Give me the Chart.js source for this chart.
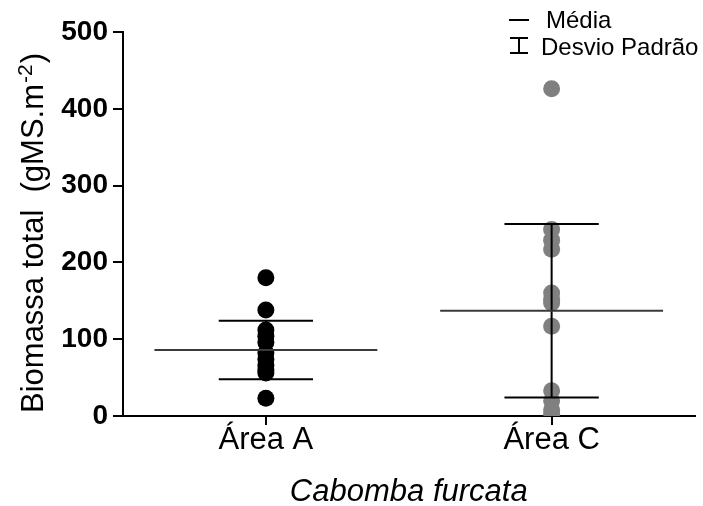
<!DOCTYPE html>
<html>
<head>
<meta charset="utf-8">
<script src="https://cdn.jsdelivr.net/npm/chart.js@4.4.1/dist/chart.umd.min.js"></script>
<style>
html,body{margin:0;padding:0;background:#fff;}
#wrap{width:703px;height:506px;position:relative;}
</style>
</head>
<body>
<div id="wrap"><canvas id="c" width="703" height="506"></canvas></div>
<script>
const categories = ['Área A', 'Área C'];
const areaA = [180, 138, 112, 104, 96, 82, 74, 66, 60, 56, 23];
const areaC = [426, 243, 229, 217, 160, 152, 147, 117, 33, 20, 8, 3];
const means = [86, 137];
const sds = [38, 113];
const yTicks = [0, 100, 200, 300, 400, 500];
const legendLabels = ['Média', 'Desvio Padrão'];
const yTitleParts = ['Biomassa total  (gMS.m', '-2', ')'];
const xTitle = 'Cabomba furcata';

const FONT = "Arial, 'Liberation Sans', sans-serif";

const errPlugin = {
  id: 'meanSd',
  afterDatasetsDraw(chart) {
    const ctx = chart.ctx, x = chart.scales.x, y = chart.scales.y;
    const catW = x.getPixelForValue(1) - x.getPixelForValue(0);
    ctx.save();
    means.forEach((m, i) => {
      const cx = x.getPixelForValue(i);
      const mw = catW * 0.39, sw = catW * 0.165;
      const yHi = y.getPixelForValue(m + sds[i]);
      const yLo = y.getPixelForValue(m - sds[i]);
      const yM = y.getPixelForValue(m);
      ctx.strokeStyle = '#000';
      ctx.lineWidth = 2;
      ctx.beginPath();
      ctx.moveTo(cx, yHi); ctx.lineTo(cx, yLo);
      ctx.moveTo(cx - sw, yHi); ctx.lineTo(cx + sw, yHi);
      ctx.moveTo(cx - sw, yLo); ctx.lineTo(cx + sw, yLo);
      ctx.stroke();
      ctx.strokeStyle = '#3a3a3a';
      ctx.lineWidth = 2;
      ctx.beginPath();
      ctx.moveTo(cx - mw, yM); ctx.lineTo(cx + mw, yM);
      ctx.stroke();
    });
    ctx.restore();
  },
  afterDraw(chart) {
    const ctx = chart.ctx;
    ctx.save();
    // legend
    ctx.strokeStyle = '#000';
    ctx.lineWidth = 2;
    ctx.beginPath();
    ctx.moveTo(509, 20); ctx.lineTo(529, 20);
    ctx.moveTo(510, 38); ctx.lineTo(528, 38);
    ctx.moveTo(519, 38); ctx.lineTo(519, 53);
    ctx.moveTo(510, 53); ctx.lineTo(528, 53);
    ctx.stroke();
    ctx.fillStyle = '#000';
    ctx.font = "24px " + FONT;
    ctx.textBaseline = 'alphabetic';
    ctx.fillText(legendLabels[0], 546, 28);
    ctx.fillText(legendLabels[1], 541, 55);
    ctx.restore();

    // y axis title with superscript
    ctx.save();
    ctx.translate(43, 413);
    ctx.rotate(-Math.PI / 2);
    ctx.fillStyle = '#000';
    ctx.textBaseline = 'alphabetic';
    ctx.textAlign = 'left';
    let px = 0;
    ctx.font = "31px " + FONT;
    ctx.fillText(yTitleParts[0], px, 0);
    px += ctx.measureText(yTitleParts[0]).width + 1;
    ctx.font = "21px " + FONT;
    ctx.fillText(yTitleParts[1], px, -11);
    px += ctx.measureText(yTitleParts[1]).width + 1;
    ctx.font = "31px " + FONT;
    ctx.fillText(yTitleParts[2], px, 0);
    ctx.restore();
  }
};

new Chart(document.getElementById('c'), {
  type: 'scatter',
  data: {
    labels: categories,
    datasets: [
      { data: areaA.map(v => ({x: categories[0], y: v})), backgroundColor: '#000', borderWidth: 0, pointRadius: 8.5 },
      { data: areaC.map(v => ({x: categories[1], y: v})), backgroundColor: '#808080', borderWidth: 0, pointRadius: 8.5 }
    ]
  },
  options: {
    responsive: false,
    animation: false,
    events: [],
    layout: { padding: { top: 32, right: 5, left: 0, bottom: 0 } },
    plugins: { legend: { display: false }, tooltip: { enabled: false } },
    scales: {
      x: {
        type: 'category',
        labels: categories,
        offset: true,
        grid: { display: true, drawOnChartArea: false, drawTicks: true, tickLength: 9, color: '#000', lineWidth: 2 },
        border: { display: true, color: '#000', width: 2 },
        ticks: { color: '#000', font: { family: FONT, size: 31, lineHeight: 1 }, padding: 0 },
        title: { display: true, text: xTitle, color: '#000', font: { family: FONT, size: 31, style: 'italic', lineHeight: 1 }, padding: { top: 4, bottom: -2 } },
        afterFit(s) { s.height = 90; }
      },
      y: {
        min: 0, max: 500,
        afterBuildTicks(s) { s.ticks = yTicks.map(v => ({value: v})); },
        grid: { display: true, drawOnChartArea: false, drawTicks: true, tickLength: 10, color: '#000', lineWidth: 2 },
        border: { display: true, color: '#000', width: 2 },
        ticks: { color: '#000', font: { family: FONT, size: 28, weight: 'bold' }, padding: 5 },
        title: { display: false },
        afterFit(s) { s.width = 123; }
      }
    }
  },
  plugins: [errPlugin]
});
</script>
</body>
</html>
